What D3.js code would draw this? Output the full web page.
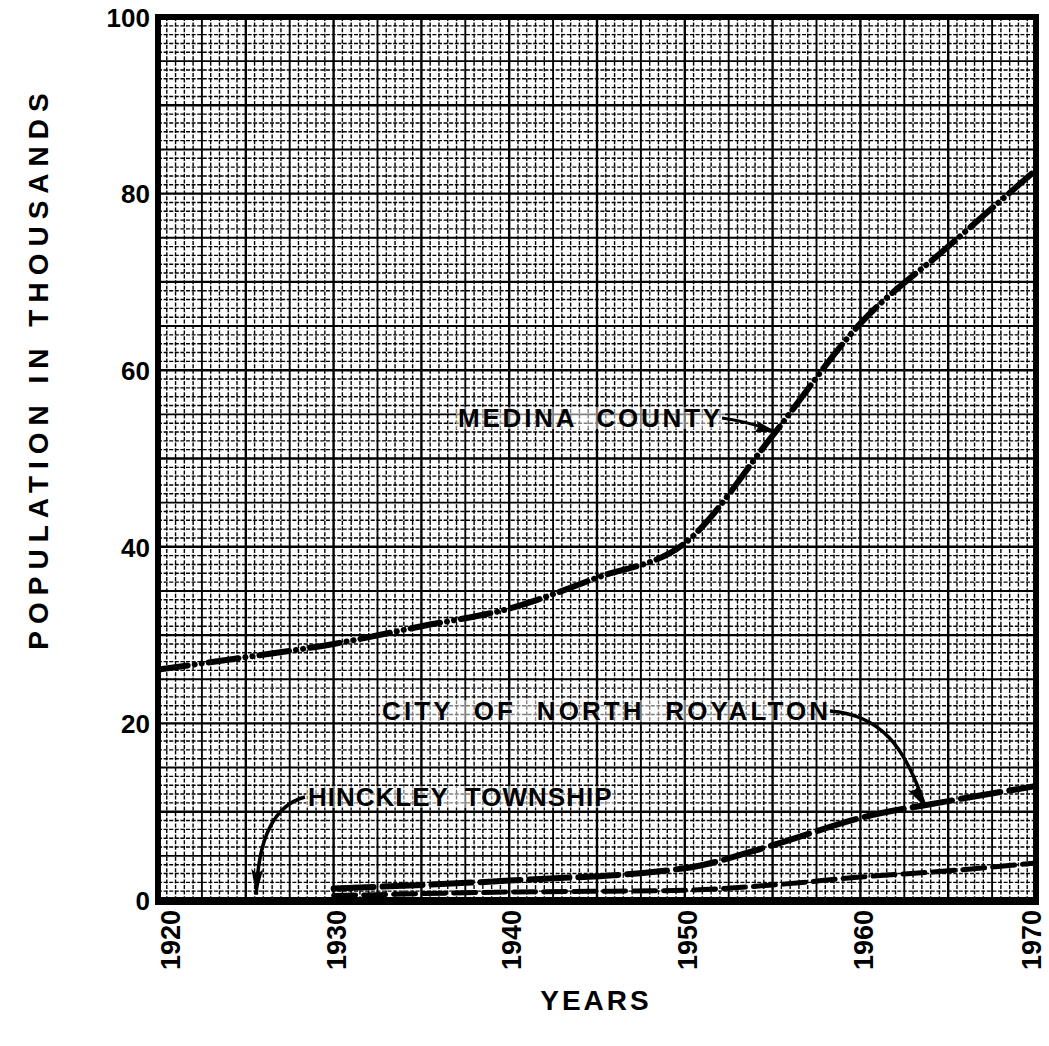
<!DOCTYPE html>
<html><head><meta charset="utf-8">
<script src="https://cdn.jsdelivr.net/npm/d3@7"></script>
<style>
html,body{margin:0;padding:0;background:#fff;}
text{font-family:"Liberation Sans",Arial,sans-serif;font-weight:bold;fill:#000;}
</style></head>
<body>
<svg id="chart" width="1049" height="1046"></svg>
<script>
// ---- data (population in thousands) ----
const medinaYears   = [1920, 1925, 1930, 1935, 1940, 1945, 1950, 1955, 1960, 1965, 1970];
const medinaValues  = [26.1, 27.5, 29.0, 31.0, 33.0, 36.5, 40.4, 52.6, 65.3, 74.0, 82.7];
const royaltonYears = [1930, 1940, 1950, 1955, 1960, 1965, 1970];
const royaltonValues= [1.3, 2.2, 3.6, 6.2, 9.3, 11.2, 12.9];
const hinckleyYears = [1930, 1940, 1950, 1955, 1960, 1965, 1970];
const hinckleyValues= [0.5, 0.9, 1.1, 1.7, 2.6, 3.3, 4.2];
const xTicks = [1920, 1930, 1940, 1950, 1960, 1970];
const yTicks = [0, 20, 40, 60, 80, 100];
const labels = ["MEDINA  COUNTY", "CITY  OF  NORTH  ROYALTON", "HINCKLEY  TOWNSHIP"];

const svg = d3.select("#chart");
const L = 158, R = 1036, T = 17, B = 900;
const x = d3.scaleLinear().domain([1920, 1970]).range([L, R]);
const y = d3.scaleLinear().domain([0, 100]).range([B, T]);

// ---- grid ----
const g = svg.append("g");
const fineX = d3.range(1920, 1970.01, 0.5);
const fineY = d3.range(0, 100.01, 1);
g.selectAll("line.fx").data(fineX).join("line")
  .attr("x1", d => x(d)).attr("x2", d => x(d)).attr("y1", T).attr("y2", B)
  .attr("stroke", "#000").attr("stroke-width", d => (d % 2.5 === 0) ? (d % 5 === 0 ? 2.4 : 1.9) : 1.4)
  .attr("stroke-dasharray", d => (d % 2.5 === 0) ? null : "4,1.6");
g.selectAll("line.fy").data(fineY).join("line")
  .attr("y1", d => y(d)).attr("y2", d => y(d)).attr("x1", L).attr("x2", R)
  .attr("stroke", "#000").attr("stroke-width", d => (d % 5 === 0) ? (d % 10 === 0 ? 2.4 : 1.9) : 1.4)
  .attr("stroke-dasharray", d => (d % 5 === 0) ? null : "4,1.6");

// ---- frame ----
svg.append("rect").attr("x", L).attr("y", T).attr("width", R - L).attr("height", B - T)
  .attr("fill", "none").attr("stroke", "#000").attr("stroke-width", 6);
svg.append("line").attr("x1", L - 3).attr("x2", R + 3).attr("y1", B + 1).attr("y2", B + 1)
  .attr("stroke", "#000").attr("stroke-width", 8);

// ---- axes labels ----
const yAxis = d3.axisLeft(y).tickValues(yTicks).tickSize(0).tickPadding(6);
const ya = svg.append("g").attr("transform", `translate(${L - 2},0)`).call(yAxis);
ya.select(".domain").remove();
ya.selectAll("text").style("font-size", "26px").attr("dy", "0.36em")
  .style("font-family", "'Liberation Sans',Arial,sans-serif").style("font-weight", "bold");

const xAxis = d3.axisBottom(x).tickValues(xTicks).tickFormat(d3.format("d")).tickSize(0);
const xa = svg.append("g").attr("transform", `translate(0,${B})`).call(xAxis);
xa.select(".domain").remove();
xa.selectAll("text")
  .style("font-size", "27px").style("font-family", "'Liberation Sans',Arial,sans-serif").style("font-weight", "bold")
  .attr("text-anchor", "end")
  .attr("transform", (d, i) => `translate(${i === 0 ? 12 : (i === xTicks.length - 1 ? -5 : 2)},10) rotate(-90)`)
  .attr("x", 0).attr("y", 0).attr("dy", "0.36em");

svg.append("text").attr("transform", "translate(38,368) rotate(-90)")
  .attr("text-anchor", "middle").attr("dominant-baseline", "central")
  .style("font-size", "28px").style("letter-spacing", "7px")
  .text("POPULATION  IN  THOUSANDS");
svg.append("text").attr("x", 596).attr("y", 1000)
  .attr("text-anchor", "middle").attr("dominant-baseline", "central")
  .style("font-size", "28px").style("letter-spacing", "3px").text("YEARS");

// ---- series ----
const line = d3.line().x(d => x(d[0])).y(d => y(d[1])).curve(d3.curveMonotoneX);
const series = [
  {years: medinaYears, vals: medinaValues, w: 6, dash: "30,7,0.1,7,0.1,7"},
  {years: royaltonYears, vals: royaltonValues, w: 6, dash: "40,9"},
  {years: hinckleyYears, vals: hinckleyValues, w: 5, dash: "22,8"}
];
svg.selectAll("path.series").data(series).join("path")
  .attr("class", "series")
  .attr("d", s => line(s.years.map((yr, i) => [yr, s.vals[i]])))
  .attr("fill", "none").attr("stroke", "#000")
  .attr("stroke-width", s => s.w).attr("stroke-dasharray", s => s.dash)
  .attr("stroke-linecap", "round");

// ---- annotations ----
function textBox(str, tx, ty, size, ls) {
  const t = svg.append("text").attr("x", tx).attr("y", ty)
    .attr("dominant-baseline", "central").style("font-size", size + "px")
    .style("letter-spacing", ls + "px").style("white-space", "pre").text(str);
  const bb = t.node().getBBox();
  svg.insert("rect", () => t.node()).attr("x", bb.x - 2).attr("y", bb.y + 4)
    .attr("width", bb.width + 4).attr("height", bb.height - 8).attr("fill", "#fff").attr("opacity", 0.5);
  return t;
}
textBox(labels[0], 458, 418, 26, 2.8);
textBox(labels[1], 382, 711, 26, 3.1);
textBox(labels[2], 308, 797, 26, 1);

// arrows (positions tied to data points via scales)
const mTarget = [x(1955.2), y(53)];
svg.append("path").attr("d", `M722,418 Q750,422 ${mTarget[0]},${mTarget[1]}`)
  .attr("fill", "none").attr("stroke", "#000").attr("stroke-width", 3);
function head(px, py, angle, len, wid) {
  svg.append("path")
    .attr("d", `M0,0 L${-len},${-wid} Q${-len * 0.7},0 ${-len},${wid} Z`)
    .attr("transform", `translate(${px},${py}) rotate(${angle})`)
    .attr("fill", "#000");
}
head(mTarget[0], mTarget[1], 15, 22, 6);

const rTarget = [x(1963.7), y(10.5)];
svg.append("path").attr("d", `M830,711 C880,715 905,745 ${rTarget[0]},${rTarget[1]}`)
  .attr("fill", "none").attr("stroke", "#000").attr("stroke-width", 3.5);
head(rTarget[0], rTarget[1], 58, 24, 6);

const hTarget = [x(1925.6), y(0.6)];
svg.append("path").attr("d", `M305,797 C275,805 258,835 ${hTarget[0]},${hTarget[1]}`)
  .attr("fill", "none").attr("stroke", "#000").attr("stroke-width", 3.5);
head(hTarget[0], hTarget[1], 92, 26, 6);
</script>
</body></html>
